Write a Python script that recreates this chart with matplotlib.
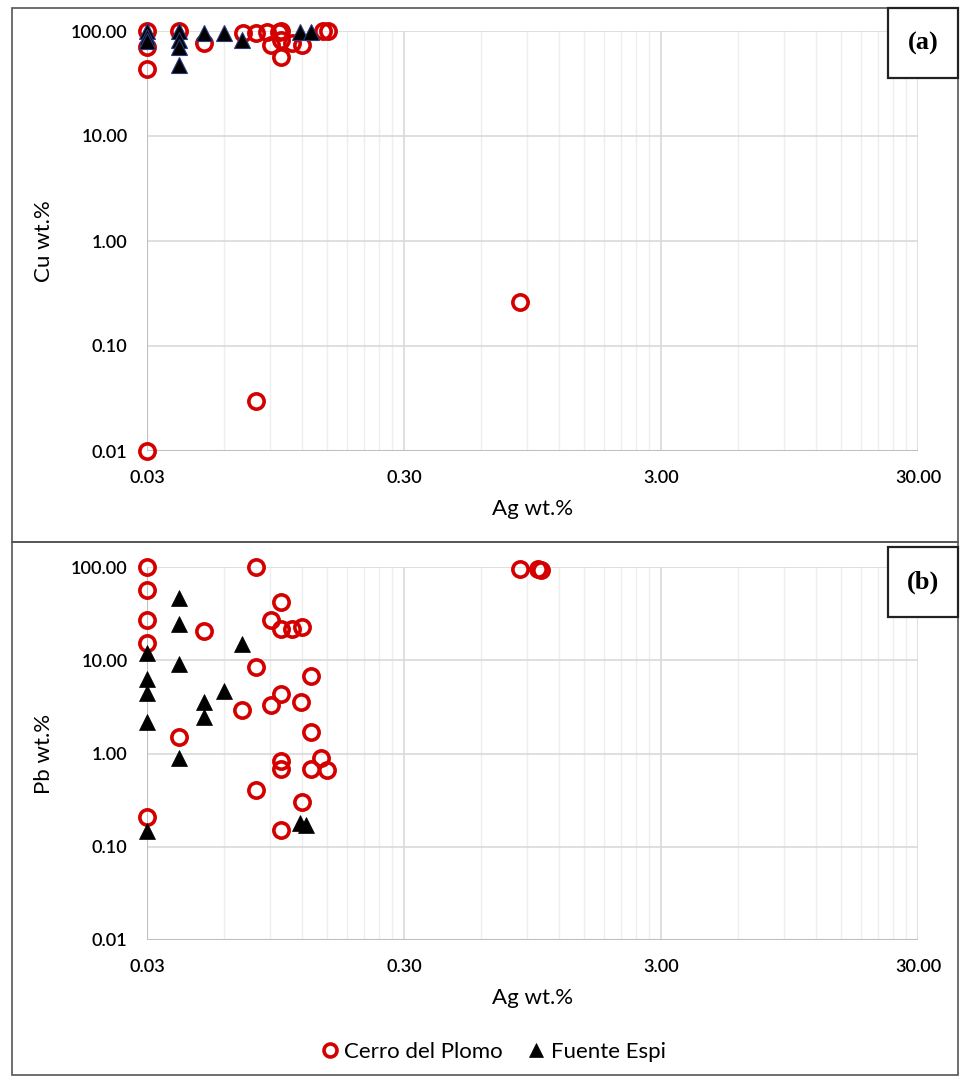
import numpy as np
import matplotlib.pyplot as plt
from matplotlib.patches import Rectangle
from matplotlib.ticker import FixedLocator, NullFormatter

plt.rcParams['font.family'] = ['Lato', 'DejaVu Sans']

# panel (a): Cu vs Ag
cu_cp_ag = [0.03, 0.03, 0.03, 0.04, 0.05, 0.071, 0.08, 0.088, 0.091, 0.098, 0.10, 0.10, 0.10,
            0.11, 0.12, 0.145, 0.152, 0.03, 0.08, 0.85]
cu_cp_cu = [100, 70, 43, 100, 77, 96, 96, 98, 73, 98, 100, 82, 56,
            77, 74, 100, 100, 0.01, 0.03, 0.26]
cu_fe_ag = [0.03, 0.03, 0.03, 0.04, 0.04, 0.04, 0.04, 0.05, 0.06, 0.07, 0.118, 0.13]
cu_fe_cu = [100, 88, 80, 100, 82, 70, 47, 95, 95, 82, 98, 98]

# panel (b): Pb vs Ag
pb_cp_ag = [0.03, 0.03, 0.03, 0.03, 0.08, 0.10, 0.091, 0.10, 0.11, 0.12, 0.05, 0.08, 0.13,
            0.10, 0.091, 0.119, 0.07, 0.13, 0.04, 0.10, 0.10, 0.143, 0.13, 0.15,
            0.08, 0.12, 0.10, 0.03, 0.85, 1.0, 1.02]
pb_cp_pb = [100, 57, 27, 15.3, 100, 42, 27, 21.7, 21.7, 23, 20.7, 8.4, 6.7,
            4.3, 3.3, 3.6, 2.9, 1.7, 1.5, 0.84, 0.68, 0.89, 0.68, 0.66,
            0.41, 0.30, 0.15, 0.21, 95, 95, 94]
pb_fe_ag = [0.03, 0.03, 0.03, 0.03, 0.04, 0.04, 0.04, 0.07, 0.06, 0.05, 0.05, 0.04,
            0.03, 0.118, 0.125]
pb_fe_pb = [11.9, 6.3, 4.4, 2.2, 46, 24.6, 9.1, 15, 4.7, 3.6, 2.45, 0.9,
            0.148, 0.18, 0.17]

W, H = 961, 1077
RED = '#d40000'

fig = plt.figure(figsize=(W / 100, H / 100), dpi=100)


def px_rect(x0, y0, x1, y1):
    return [x0 / W, 1 - y1 / H, (x1 - x0) / W, (y1 - y0) / H]


def style_axes(ax, ylabel):
    ax.set_xscale('log')
    ax.set_yscale('log')
    ax.set_xlim(0.03, 30)
    ax.set_ylim(0.01, 100)
    majors = [0.03, 0.3, 3, 30]
    minors = [m * k for m in majors[:-1] for k in range(2, 10)]
    ax.xaxis.set_major_locator(FixedLocator(majors))
    ax.xaxis.set_minor_locator(FixedLocator(minors))
    ax.xaxis.set_minor_formatter(NullFormatter())
    ax.set_xticklabels(['0.03', '0.30', '3.00', '30.00'])
    ax.yaxis.set_major_locator(FixedLocator([0.01, 0.1, 1, 10, 100]))
    ax.yaxis.set_minor_locator(FixedLocator([]))
    ax.set_yticklabels(['0.01', '0.10', '1.00', '10.00', '100.00'])
    ax.tick_params(which='both', length=0, labelsize=13, pad=14)
    for t in ax.get_xticklabels() + ax.get_yticklabels():
        t.set_fontweight('semibold')
    ax.grid(which='major', axis='both', color='#d9d9d9', lw=1.2)
    ax.grid(which='minor', axis='x', color='#eeeeee', lw=1.0)
    ax.set_axisbelow(True)
    for s in ax.spines.values():
        s.set_visible(False)
    ax.axvline(0.03, color='#bfbfbf', lw=1.5, zorder=1)
    ax.axhline(0.01, color='#bfbfbf', lw=1.5, zorder=1)
    ax.set_xlabel('Ag wt.%', fontsize=16, labelpad=9)
    ax.set_ylabel(ylabel, fontsize=16, labelpad=12)
    ax.patch.set_alpha(0)


circ = dict(marker='o', ls='none', ms=11, mfc='none', mec=RED, mew=2.6, zorder=3)
tri = dict(marker='^', ls='none', ms=12, mfc='black', zorder=4)

ax1 = fig.add_axes(px_rect(147, 31, 918, 451))
style_axes(ax1, 'Cu wt.%')
ax1.plot(cu_cp_ag, cu_cp_cu, clip_on=False, **circ)
ax1.plot(cu_fe_ag, cu_fe_cu, clip_on=False, mec='#2b3a80', mew=0.8, **tri)

ax2 = fig.add_axes(px_rect(147, 567, 918, 940))
style_axes(ax2, 'Pb wt.%')
ax2.plot(pb_cp_ag, pb_cp_pb, clip_on=False, label='Cerro del Plomo', **circ)
ax2.plot(pb_fe_ag, pb_fe_pb, clip_on=False, mec='black', mew=0.5, label='Fuente Espi', **tri)

# panel frames and label boxes
for (x0, y0, x1, y1) in [(12, 8, 958, 542), (12, 542, 958, 1075)]:
    fig.add_artist(Rectangle((x0 / W, 1 - y1 / H), (x1 - x0) / W, (y1 - y0) / H,
                             transform=fig.transFigure, fill=False, ec='#555555', lw=1.2))
for (x0, y0, x1, y1), lab in [((888, 8, 958, 78), '(a)'), ((888, 547, 958, 617), '(b)')]:
    fig.add_artist(Rectangle((x0 / W, 1 - y1 / H), (x1 - x0) / W, (y1 - y0) / H,
                             transform=fig.transFigure, fill=True, fc='white', ec='#222222', lw=1.6))
    fig.text((x0 + x1) / 2 / W, 1 - (y0 + y1) / 2 / H, lab, ha='center', va='center',
             fontsize=19, fontweight='bold', family='Liberation Serif')

h, l = ax2.get_legend_handles_labels()
fig.legend(h, l, loc='center', bbox_to_anchor=(0.511, 1 - 1052 / H), ncol=2, frameon=False,
           fontsize=16, handletextpad=0.05, columnspacing=0.9, markerscale=0.85,
           handlelength=1.2)

fig.savefig('out.png', dpi=100, facecolor='white')
